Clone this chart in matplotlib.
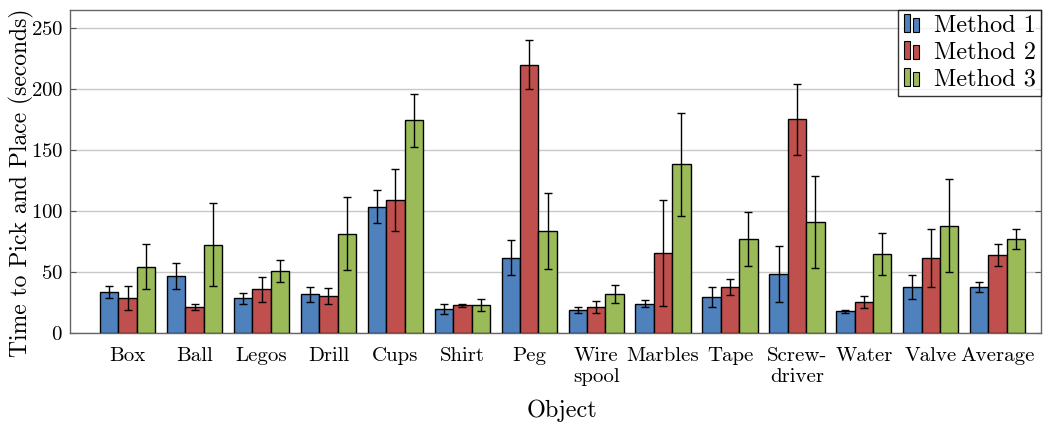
import matplotlib
matplotlib.use("Agg")
import matplotlib.pyplot as plt
import numpy as np
from matplotlib.legend_handler import HandlerBase
from matplotlib.patches import Rectangle

categories = ["Box", "Ball", "Legos", "Drill", "Cups", "Shirt", "Peg", "Wire\nspool",
              "Marbles", "Tape", "Screw-\ndriver", "Water", "Valve", "Average"]
method1 = [33.5, 46.4, 28.5, 31.6, 103.7, 19.6, 61.9, 19.0, 24.0, 29.5, 48.3, 17.7, 37.7, 37.7]
method1_err = [5.0, 10.7, 4.7, 6.0, 13.5, 4.3, 14.3, 2.7, 2.7, 8.0, 22.7, 1.5, 9.5, 3.9]
method2 = [28.5, 21.5, 35.8, 30.3, 109.1, 22.6, 220.2, 21.5, 65.5, 37.7, 175.2, 25.4, 61.4, 63.9]
method2_err = [9.7, 2.7, 10.0, 6.5, 25.6, 1.4, 19.8, 4.8, 43.5, 6.2, 29.2, 4.6, 23.6, 8.8]
method3 = [54.5, 72.6, 50.5, 81.3, 174.4, 22.9, 83.5, 32.2, 138.4, 77.2, 91.4, 64.7, 88.1, 77.0]
method3_err = [18.5, 34.0, 9.0, 30.0, 21.8, 5.0, 31.0, 7.5, 42.4, 22.0, 37.8, 17.5, 38.3, 8.3]
series_names = ["Method 1", "Method 2", "Method 3"]
colors = ["#4F81BD", "#C0504D", "#9BBB59"]
yticks = [0, 50, 100, 150, 200, 250]

plt.rcParams["font.family"] = ["cmr10", "DejaVu Serif"]
plt.rcParams["mathtext.fontset"] = "cm"
plt.rcParams["axes.formatter.use_mathtext"] = True

fig = plt.figure(figsize=(10.5, 4.29), dpi=100)
ax = fig.add_axes([70/1050, 1 - 333/429, (1041-70)/1050, (333-10)/429])

x = np.arange(len(categories))
w = 0.275
data = [(method1, method1_err), (method2, method2_err), (method3, method3_err)]
handles = []
for i, ((vals, errs), c, name) in enumerate(zip(data, colors, series_names)):
    b = ax.bar(x + (i - 1) * w, vals, w, color=c, edgecolor="black", linewidth=1.0,
               yerr=errs, capsize=3, error_kw=dict(ecolor="black", elinewidth=1.0, capthick=1.0),
               label=name, zorder=3)
    handles.append(b)

ax.set_xlim(-0.862, 13.647)
ax.set_ylim(0, 265)
ax.set_yticks(yticks)
ax.set_xticks(x)
ax.set_xticklabels(categories, fontsize=15, linespacing=1.25)
ax.tick_params(axis="x", length=0, pad=10)
ax.tick_params(axis="y", labelsize=15, direction="in", length=4, right=True, color="#555555", pad=5)
ax.yaxis.grid(True, color="#c8c8c8", linewidth=1.0, zorder=0)
ax.set_axisbelow(True)
for s in ax.spines.values():
    s.set_color("#666666")
    s.set_linewidth(1.0)

fig.text(562/1050, 1 - 411/429, "Object", fontsize=17.5, ha="center", va="center")
fig.text(21/1050, 1 - 182.5/429, "Time to Pick and Place (seconds)", fontsize=17,
         rotation=90, ha="center", va="center")


class TwoBarHandler(HandlerBase):
    def create_artists(self, legend, orig_handle, xdescent, ydescent, width, height, fontsize, trans):
        c = orig_handle.patches[0].get_facecolor()
        bw = width * 0.28
        h = height * 1.05
        r1 = Rectangle((xdescent + width * 0.1, -ydescent), bw, h, facecolor=c,
                       edgecolor="black", linewidth=0.8, transform=trans)
        r2 = Rectangle((xdescent + width * 0.55, -ydescent), bw, h * 0.8, facecolor=c,
                       edgecolor="black", linewidth=0.8, transform=trans)
        return [r1, r2]


leg = ax.legend(handles, series_names, loc="upper right", fontsize=17.5, frameon=True,
                fancybox=False, edgecolor="black", borderaxespad=0.0, handlelength=0.8,
                handletextpad=0.5, labelspacing=0.2, borderpad=0.2,
                handler_map={h: TwoBarHandler() for h in handles})
leg.get_frame().set_linewidth(1.0)
leg.set_zorder(5)

fig.savefig("out.png", dpi=100)
